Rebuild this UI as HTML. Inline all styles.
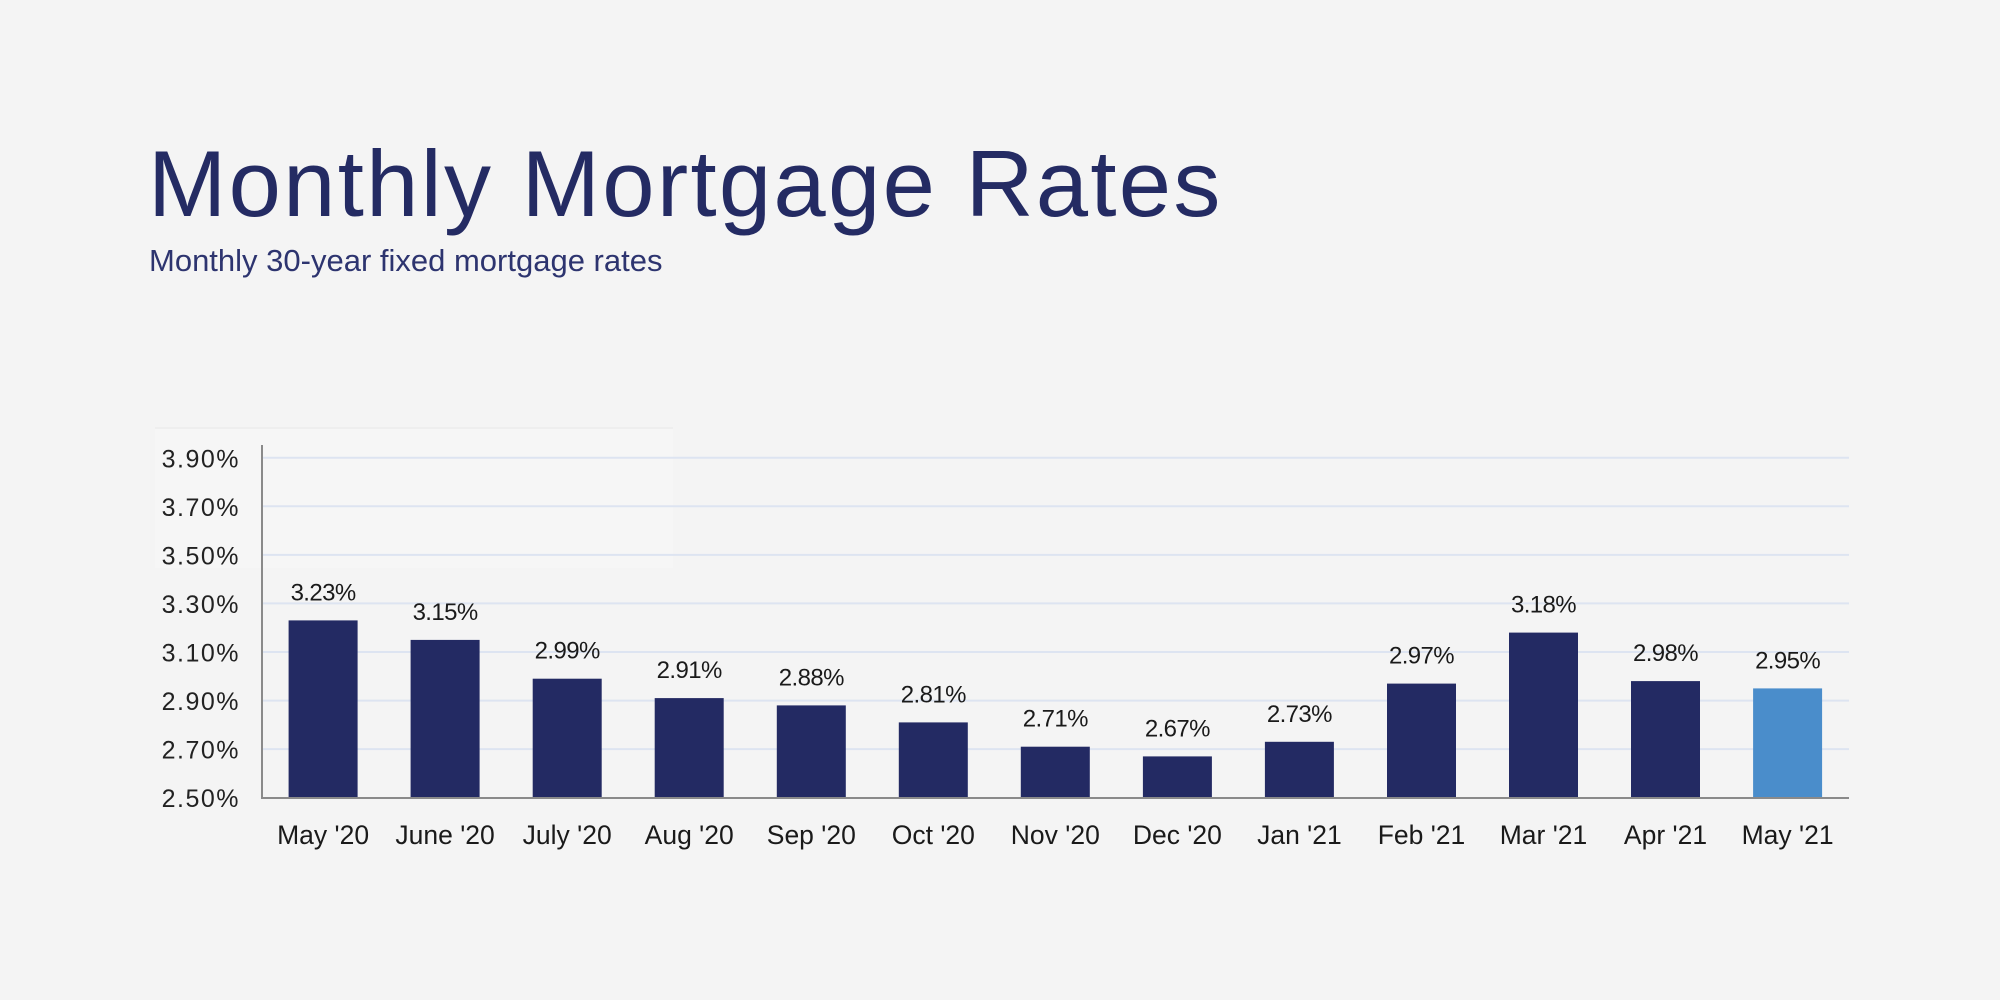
<!DOCTYPE html>
<html>
<head>
<meta charset="utf-8">
<style>
  html,body{margin:0;padding:0;background:#f4f4f4;}
  body{width:2000px;height:1000px;overflow:hidden;}
  svg{display:block;}
  text{font-family:"Liberation Sans", Arial, sans-serif;}
</style>
</head>
<body>
<svg width="2000" height="1000" viewBox="0 0 2000 1000" xmlns="http://www.w3.org/2000/svg">
  <rect x="0" y="0" width="2000" height="1000" fill="#f4f4f4"/>
  <!-- faint box -->
  <rect x="155" y="428" width="518" height="140" fill="#f6f6f6"/>
  <line x1="155" y1="428" x2="673" y2="428" stroke="#eeeeee" stroke-width="2"/>

  <!-- Title -->
  <text x="148" y="216" font-size="94" letter-spacing="2.3" fill="#242b63">Monthly Mortgage Rates</text>
  <text x="149" y="271" font-size="31" fill="#2d346f">Monthly 30-year fixed mortgage rates</text>

  <!-- gridlines -->
  <g stroke="#dde4f1" stroke-width="2">
    <line x1="262" y1="749.1" x2="1849" y2="749.1"/>
    <line x1="262" y1="700.6" x2="1849" y2="700.6"/>
    <line x1="262" y1="652.0" x2="1849" y2="652.0"/>
    <line x1="262" y1="603.4" x2="1849" y2="603.4"/>
    <line x1="262" y1="554.9" x2="1849" y2="554.9"/>
    <line x1="262" y1="506.3" x2="1849" y2="506.3"/>
    <line x1="262" y1="457.7" x2="1849" y2="457.7"/>
  </g>

  <!-- y labels -->
  <g font-size="25" fill="#222" text-anchor="end" letter-spacing="1.5">
    <text x="240" y="807">2.50%</text>
    <text x="240" y="758.5">2.70%</text>
    <text x="240" y="710">2.90%</text>
    <text x="240" y="661.5">3.10%</text>
    <text x="240" y="613">3.30%</text>
    <text x="240" y="564.5">3.50%</text>
    <text x="240" y="516">3.70%</text>
    <text x="240" y="467.5">3.90%</text>
  </g>

  <!-- bars -->
  <g fill="#232a63">
    <rect x="288.6" y="620.4" width="69" height="177.6"/>
    <rect x="410.6" y="639.9" width="69" height="158.1"/>
    <rect x="532.7" y="678.7" width="69" height="119.3"/>
    <rect x="654.7" y="698.1" width="69" height="99.9"/>
    <rect x="776.8" y="705.4" width="69" height="92.6"/>
    <rect x="898.8" y="722.4" width="69" height="75.6"/>
    <rect x="1020.8" y="746.7" width="69" height="51.3"/>
    <rect x="1142.9" y="756.4" width="69" height="41.6"/>
    <rect x="1264.9" y="741.8" width="69" height="56.2"/>
    <rect x="1387.0" y="683.6" width="69" height="114.4"/>
    <rect x="1509.0" y="632.6" width="69" height="165.4"/>
    <rect x="1631.0" y="681.1" width="69" height="116.9"/>
  </g>
  <rect x="1753.1" y="688.4" width="69" height="109.6" fill="#4a8dcb"/>

  <!-- axes -->
  <line x1="262" y1="445" x2="262" y2="799" stroke="#8a8a8a" stroke-width="2"/>
  <line x1="261" y1="798" x2="1849" y2="798" stroke="#8a8a8a" stroke-width="2"/>

  <!-- data labels -->
  <g font-size="24" fill="#1a1a1a" text-anchor="middle" letter-spacing="-0.6">
    <text x="323.1" y="600.4">3.23%</text>
    <text x="445.1" y="619.9">3.15%</text>
    <text x="567.2" y="658.7">2.99%</text>
    <text x="689.2" y="678.1">2.91%</text>
    <text x="811.3" y="685.4">2.88%</text>
    <text x="933.3" y="702.4">2.81%</text>
    <text x="1055.3" y="726.7">2.71%</text>
    <text x="1177.4" y="736.4">2.67%</text>
    <text x="1299.4" y="721.8">2.73%</text>
    <text x="1421.5" y="663.6">2.97%</text>
    <text x="1543.5" y="612.6">3.18%</text>
    <text x="1665.5" y="661.1">2.98%</text>
    <text x="1787.6" y="668.4">2.95%</text>
  </g>

  <!-- x labels -->
  <g font-size="26.5" fill="#1a1a1a" text-anchor="middle">
    <text x="323.1" y="844">May '20</text>
    <text x="445.1" y="844">June '20</text>
    <text x="567.2" y="844">July '20</text>
    <text x="689.2" y="844">Aug '20</text>
    <text x="811.3" y="844">Sep '20</text>
    <text x="933.3" y="844">Oct '20</text>
    <text x="1055.3" y="844">Nov '20</text>
    <text x="1177.4" y="844">Dec '20</text>
    <text x="1299.4" y="844">Jan '21</text>
    <text x="1421.5" y="844">Feb '21</text>
    <text x="1543.5" y="844">Mar '21</text>
    <text x="1665.5" y="844">Apr '21</text>
    <text x="1787.6" y="844">May '21</text>
  </g>
</svg>
</body>
</html>
